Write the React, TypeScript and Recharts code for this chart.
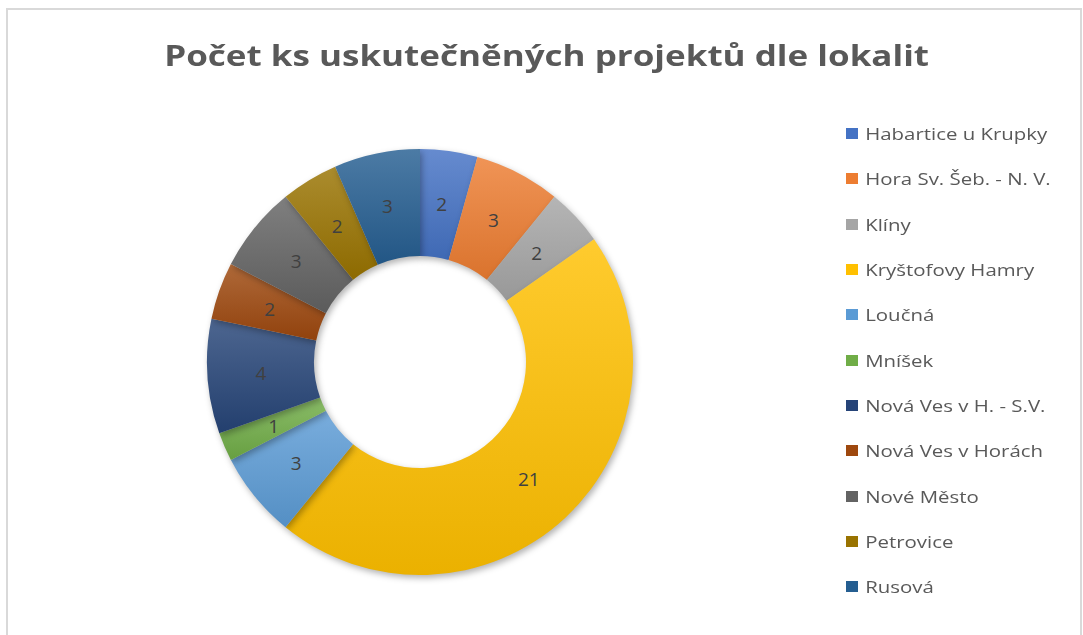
import React from "react";
import { Cell, Legend, Pie, PieChart } from "recharts";

const locations = [
  "Habartice u Krupky",
  "Hora Sv. Šeb. - N. V.",
  "Klíny",
  "Kryštofovy Hamry",
  "Loučná",
  "Mníšek",
  "Nová Ves v H. - S.V.",
  "Nová Ves v Horách",
  "Nové Město",
  "Petrovice",
  "Rusová",
];
const projectCounts = [2, 3, 2, 21, 3, 1, 4, 2, 3, 2, 3];
const colors = [
  "#4472C4", "#ED7D31", "#A5A5A5", "#FFC000", "#5B9BD5", "#70AD47",
  "#264478", "#9E480E", "#636363", "#997300", "#255E91",
];

const data = locations.map((name, i) => ({ name, value: projectCounts[i] }));

const font = "'Open Sans', sans-serif";
const RADIAN = Math.PI / 180;

function mix(hex: string, target: number, amount: number) {
  const n = parseInt(hex.slice(1), 16);
  const ch = [(n >> 16) & 255, (n >> 8) & 255, n & 255].map((c) => Math.round(c + (target - c) * amount));
  return "#" + ch.map((c) => c.toString(16).padStart(2, "0")).join("");
}

function SliceLabel(props: any) {
  const { cx, cy, midAngle, innerRadius, outerRadius, value } = props;
  const r = (innerRadius + outerRadius) / 2;
  const x = cx + r * Math.cos(-midAngle * RADIAN);
  const y = cy + r * Math.sin(-midAngle * RADIAN);
  return (
    <text x={x} y={y} fill="#404040" fontSize={19} fontFamily={font} textAnchor="middle" dominantBaseline="central">
      {value}
    </text>
  );
}

function LegendList() {
  return (
    <div style={{ fontFamily: font, fontSize: 17, color: "#595959", transform: "scaleX(1.2)", transformOrigin: "0 0" }}>
      {locations.map((name, i) => (
        <div key={name} style={{ height: 45.3, display: "flex", alignItems: "center", whiteSpace: "nowrap" }}>
          <span style={{ width: 10, height: 11, background: colors[i], marginRight: 6, display: "inline-block" }} />
          {name}
        </div>
      ))}
    </div>
  );
}

export default function App() {
  return (
    <div style={{ position: "absolute", left: 0, top: 0, width: 1083, height: 635, background: "#fff", overflow: "hidden" }}>
      <style>{`.recharts-pie-sectors, .recharts-pie-sector { filter: drop-shadow(2px 3px 3px rgba(0,0,0,0.3)); }`}</style>
      <div
        style={{
          position: "absolute", left: 6, top: 8, width: 1072, height: 640,
          border: "2px solid #d9d9d9", borderBottom: "none",
        }}
      />
      <div
        style={{
          position: "absolute", left: 0, width: 1093, top: 36, textAlign: "center",
          fontFamily: font, fontWeight: 700, fontSize: 28, color: "#595959", whiteSpace: "nowrap",
          transform: "scaleX(1.25)", transformOrigin: "546px 0",
        }}
      >
        Počet ks uskutečněných projektů dle lokalit
      </div>
      <PieChart width={1083} height={635} style={{ position: "absolute", left: 0, top: 0 }}>
        <defs>
          {colors.map((c, i) => (
            <linearGradient key={i} id={`g${i}`} x1="0" y1="0" x2="0" y2="1">
              <stop offset="0%" stopColor={mix(c, 255, 0.18)} />
              <stop offset="100%" stopColor={mix(c, 0, 0.08)} />
            </linearGradient>
          ))}
        </defs>
        <Pie
          data={data}
          dataKey="value"
          nameKey="name"
          cx={415}
          cy={357}
          innerRadius={106}
          outerRadius={213}
          startAngle={90}
          endAngle={-270}
          stroke="none"
          label={SliceLabel}
          labelLine={false}
          isAnimationActive={false}
        >
          {data.map((_, i) => (
            <Cell key={i} fill={`url(#g${i})`} />
          ))}
        </Pie>
        <Legend
          content={() => <LegendList />}
          wrapperStyle={{ position: "absolute", left: 846, top: 111, width: 230 }}
        />
      </PieChart>
    </div>
  );
}
